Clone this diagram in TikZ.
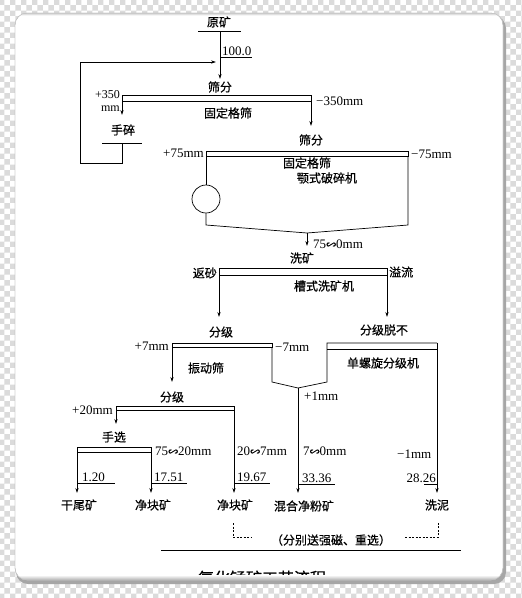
\documentclass[tikz,border=0pt]{standalone}
\usepackage{fontspec}
\setmainfont{Liberation Serif}
\newfontfamily\cjk[FakeBold=0.6]{Noto Sans CJK SC}
\usetikzlibrary{arrows.meta,patterns}
\newcommand\wv{{\cjk\fontsize{10}{10}\selectfont ∽}}
\begin{document}
\begin{tikzpicture}[x=1pt,y=-1pt,
  ln/.style={line width=0.7pt},
  ar/.style={ln,-{Stealth[length=5pt,width=3.2pt]}},
  dsh/.style={line width=0.6pt, dash pattern=on 2pt off 1.5pt},
  cn/.style={font=\cjk\fontsize{12}{14}\selectfont, inner sep=0pt},
  nm/.style={font=\fontsize{13}{13}\selectfont, inner sep=0pt},
  ]
\useasboundingbox (0,0) rectangle (522,598);
% background and frame
\fill[white] (0,0) rectangle (522,598);
\fill[pattern=checkerboard, pattern color=black!14] (0,0) rectangle (522,598);
\fill[black!35, rounded corners=12pt] (16,16) rectangle (506,584);
\fill[white, draw=black!25, rounded corners=12pt] (15,13) rectangle (503,580);

% ---------- coordinates ----------
\coordinate (ykL) at (198,31); \coordinate (ykR) at (241,31);
\coordinate (ykB) at (220,31); \coordinate (s1in) at (220,79);
\coordinate (lpA) at (122,143); \coordinate (lpB) at (122,163);
\coordinate (lpC) at (80,163);  \coordinate (lpD) at (80,62);
\coordinate (lpE) at (216,62);
\coordinate (s1a) at (122,95);  \coordinate (s1b) at (311,101);
\coordinate (s1L) at (122,101); \coordinate (scIn) at (122,115);
\coordinate (scL) at (102,143); \coordinate (scR) at (142,143);
\coordinate (s1R) at (311,101); \coordinate (s2in) at (311,126);
\coordinate (s2a) at (206,151); \coordinate (s2b) at (408,156);
\coordinate (crT) at (206,156); \coordinate (crBL) at (206,225);
\coordinate (crV) at (307,233); \coordinate (crBR) at (408,225);
\coordinate (crTR) at (408,156); \coordinate (xkIn) at (307,246);
\coordinate (w1a) at (219,268); \coordinate (w1b) at (387,275);
\coordinate (wL) at (219,275);  \coordinate (wLo) at (219,317);
\coordinate (wR) at (387,275);  \coordinate (wRo) at (387,317);
\coordinate (v1a) at (172,343); \coordinate (v1b) at (272,347);
\coordinate (vL) at (172,347);  \coordinate (vLo) at (172,382);
\coordinate (fA) at (272,347);  \coordinate (fB) at (272,382);
\coordinate (fC) at (298,388);  \coordinate (fD) at (327,382);
\coordinate (fE) at (327,343);  \coordinate (fF) at (437,343);
\coordinate (fG) at (327,349);  \coordinate (fH) at (437,349);
\coordinate (xn) at (437,493);  \coordinate (hn) at (298,493);
\coordinate (g2a) at (116,406); \coordinate (g2b) at (234,410);
\coordinate (gL) at (116,410);  \coordinate (gLo) at (116,424);
\coordinate (gR) at (234,410);  \coordinate (gRo) at (234,493);
\coordinate (h1a) at (77,447);  \coordinate (h1b) at (151,452);
\coordinate (hL) at (77,452);   \coordinate (hLo) at (77,493);
\coordinate (hR) at (151,452);  \coordinate (hRo) at (151,493);
\coordinate (bl1) at (233,523); \coordinate (bl2) at (233,537); \coordinate (bl3) at (251,537);
\coordinate (br1) at (405,537); \coordinate (br2) at (438,537); \coordinate (br3) at (438,523);
\coordinate (slA) at (161,550); \coordinate (slB) at (461,550);

% ---------- top ----------
\node[cn] (yk) at (219,22) {原矿};
\draw[ln] (ykL) -- (ykR);
\draw[ar] (ykB) -- (s1in);
\node[nm, anchor=south west] (n100) at (222,56) {100.0};
\draw[ln] ([xshift=-2pt,yshift=-1pt]n100.south west) -- ([xshift=0pt,yshift=-1pt]n100.south east);
\draw[ar] (lpA) -- (lpB) -- (lpC) -- (lpD) -- (lpE);

% screen 1
\node[cn] (sf1) at (220,87) {筛分};
\draw[ln] (s1a) rectangle (s1b);
\node[cn] (gd1) at (228,113) {固定格筛};
\node[nm, anchor=east, align=right, font=\fontsize{12}{12.5}\selectfont] (p350) at (120,101) {+350\\mm};
\node[nm, anchor=west] (m350) at (316,101) {−350mm};
\draw[ar] (s1L) -- (scIn);
\node[cn] (sc) at (123,130) {手碎};
\draw[ln] (scL) -- (scR);
\draw[ar] (s1R) -- (s2in);

% screen 2 + crusher
\node[cn] (sf2) at (311,140) {筛分};
\draw[ln] (s2a) rectangle (s2b);
\node[nm, anchor=east] (p75) at (204,153) {+75mm};
\node[nm, anchor=west] (m75) at (411,154) {−75mm};
\node[cn] (gd2) at (307,163) {固定格筛};
\node[cn] (eps) at (327,178) {颚式破碎机};
\node[draw, circle, minimum size=28pt, inner sep=0pt, ln] (crc) at (206,199) {};
\draw[ln] (crT) -- (crc.north);
\draw[ln] (crc.south) -- (crBL) -- (crV) -- (crBR) -- (crTR);
\draw[ar] (crV) -- (xkIn);
\node[nm, anchor=west] (r750) at (313,244) {75\wv 0mm};

% washer
\node[cn] (xk) at (302,258) {洗矿};
\draw[ln] (w1a) rectangle (w1b);
\node[cn, anchor=east] (fs) at (217,273) {返砂};
\node[cn, anchor=west] (yl) at (389,272) {溢流};
\node[cn] (cs) at (324,286) {槽式洗矿机};
\draw[ar] (wL) -- (wLo);
\draw[ar] (wR) -- (wRo);

% vibrating screen & spiral classifier
\node[cn] (fj1) at (221,332) {分级};
\node[cn] (fjt) at (384,330) {分级脱不};
\draw[ln] (v1a) rectangle (v1b);
\node[nm, anchor=east] (p7) at (169,346) {+7mm};
\node[nm, anchor=west] (m7) at (275,347) {−7mm};
\node[cn] (zds) at (206,368) {振动筛};
\draw[ar] (vL) -- (vLo);
\draw[ln] (fA) -- (fB) -- (fC) -- (fD) -- (fE) -- (fF);
\draw[ln] (fG) -- (fH);
\draw[ar] (fF) -- (xn);
\node[cn] (dlx) at (383,363) {单螺旋分级机};
\node[nm, anchor=west] (p1) at (304,396) {+1mm};
\draw[ar] (fC) -- (hn);

% screen 3
\node[cn] (fj2) at (172,397) {分级};
\draw[ln] (g2a) rectangle (g2b);
\node[nm, anchor=east] (p20) at (113,410) {+20mm};
\draw[ar] (gL) -- (gLo);
\draw[ar] (gR) -- (gRo);

% hand picking
\node[cn] (sx) at (114,437) {手选};
\draw[ln] (h1a) rectangle (h1b);
\node[nm, anchor=west] (r7520) at (155,451) {75\wv 20mm};
\draw[ar] (hL) -- (hLo);
\draw[ar] (hR) -- (hRo);

\node[nm, anchor=west] (r207) at (237,451) {20\wv 7mm};
\node[nm, anchor=west] (r70) at (303,451) {7\wv 0mm};
\node[nm, anchor=west] (m1) at (397,454) {−1mm};

% yields
\node[nm, anchor=south west] (v120) at (82,482) {1.20};
\draw[ln] ([yshift=-1pt]hL |- v120.south) -- ([xshift=10pt,yshift=-1pt]v120.south east);
\node[nm, anchor=south west] (v1751) at (154,482) {17.51};
\draw[ln] ([yshift=-1pt]hR |- v1751.south) -- ([xshift=3pt,yshift=-1pt]v1751.south east);
\node[nm, anchor=south west] (v1967) at (237,482) {19.67};
\draw[ln] ([yshift=-1pt]gR |- v1967.south) -- ([xshift=3pt,yshift=-1pt]v1967.south east);
\node[nm, anchor=south west] (v3336) at (302,483) {33.36};
\draw[ln] ([yshift=-1.5pt]fC |- v3336.south) -- ([xshift=3pt,yshift=-1.5pt]v3336.south east);
\node[nm, anchor=south east] (v2826) at (436,483) {28.26};
\draw[ln] ([xshift=-12pt,yshift=-1.5pt]v2826.south east) -- ([yshift=-1.5pt]xn |- v2826.south);

% products
\node[cn] (gwk) at (79,505) {干尾矿};
\node[cn] (jk1) at (153,505) {净块矿};
\node[cn] (jk2) at (235,505) {净块矿};
\node[cn] (hhf) at (304,506) {混合净粉矿};
\node[cn] (xn2) at (437,505) {洗泥};

\draw[dsh] (bl1) -- (bl2) -- (bl3);
\draw[dsh] (br1) -- (br2) -- (br3);
\node[cn] (fb) at (331,540) {（分别送强磁、重选）};
\draw[ln] (slA) -- (slB);

% caption, partly hidden by frame edge
\begin{scope}
\clip (0,0) rectangle (522,577.5);
\node[cn, font=\cjk\fontsize{16}{16}\selectfont] (cap) at (262,578) {氧化锰矿工艺流程};
\end{scope}
\begin{scope}
\clip[rounded corners=12pt] (15,13) rectangle (503,580);
\shade[top color=white, bottom color=black!30] (15,575) rectangle (503,580);
\shade[top color=black!20, bottom color=white] (15,13) rectangle (503,15.5);
\end{scope}
\draw[black!25, rounded corners=12pt] (15,13) rectangle (503,580);
\end{tikzpicture}
\end{document}
